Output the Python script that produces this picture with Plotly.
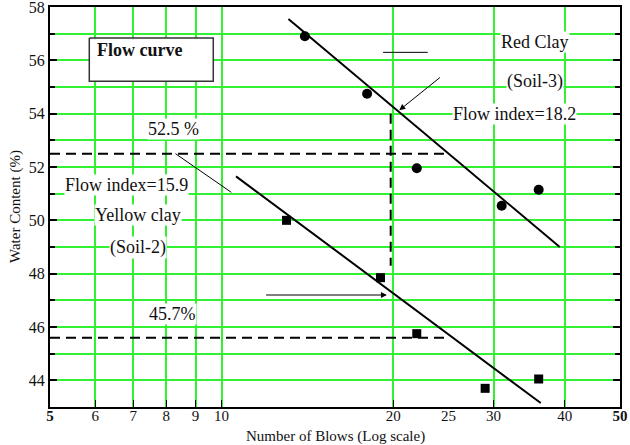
import math
import plotly.graph_objects as go

# ---- data ----
red_blows = [14, 18, 22, 31, 36]
red_wc = [56.9, 54.75, 51.95, 50.55, 51.15]
yellow_blows = [13, 19, 22, 29, 36]
yellow_wc = [50.0, 47.85, 45.75, 43.7, 44.05]

red_fit_blows = [13.1, 39.2]
red_fit_wc = [57.55, 49.0]
yellow_fit_blows = [10.6, 36.3]
yellow_fit_wc = [51.65, 43.15]

ll_upper_blows = [5, 25]
ll_upper_wc = [52.5, 52.5]
ll_lower_blows = [5, 25]
ll_lower_wc = [45.6, 45.6]
ll_vert_blows = [19.8, 19.8]
ll_vert_wc = [54.0, 48.3]

leader_blows = [8.3, 10.4]
leader_wc = [52.5, 51.05]
mark_blows = [19.2, 23.0]
mark_wc = [56.3, 56.3]

box_blows = [5.86, 9.67, 9.67, 5.86, 5.86]
box_wc = [56.84, 56.84, 55.22, 55.22, 56.84]

x_tick_vals = [5, 6, 7, 8, 9, 10, 20, 25, 30, 40, 50]
x_tick_text = ["<b>5</b>", "6", "7", "8", "9", "10", "20", "25", "30", "40", "<b>50</b>"]
x_grid_vals = [6, 7, 8, 9, 10, 20, 30, 40]
y_tick_vals = [44, 46, 48, 50, 52, 54, 56, 58]

FONT = "Liberation Serif, Times New Roman, serif"
GRID = "#33f033"

fig = go.Figure()

fig.add_trace(go.Scatter(x=box_blows, y=box_wc, mode="lines", fill="toself",
                         fillcolor="white", line=dict(color="#333", width=1.5),
                         hoverinfo="skip", showlegend=False))

for xs, ys in [(ll_upper_blows, ll_upper_wc), (ll_lower_blows, ll_lower_wc),
               (ll_vert_blows, ll_vert_wc)]:
    fig.add_trace(go.Scatter(x=xs, y=ys, mode="lines",
                             line=dict(color="black", width=2, dash="10px,6px"),
                             showlegend=False))

fig.add_trace(go.Scatter(x=leader_blows, y=leader_wc, mode="lines",
                         line=dict(color="black", width=1), showlegend=False))
fig.add_trace(go.Scatter(x=mark_blows, y=mark_wc, mode="lines",
                         line=dict(color="black", width=1), showlegend=False))

fig.add_trace(go.Scatter(x=red_fit_blows, y=red_fit_wc, mode="lines",
                         line=dict(color="black", width=2), showlegend=False))
fig.add_trace(go.Scatter(x=yellow_fit_blows, y=yellow_fit_wc, mode="lines",
                         line=dict(color="black", width=2), showlegend=False))

fig.add_trace(go.Scatter(x=red_blows, y=red_wc, mode="markers", name="Red Clay (Soil-3)",
                         marker=dict(symbol="circle", size=10, color="black"),
                         showlegend=False))
fig.add_trace(go.Scatter(x=yellow_blows, y=yellow_wc, mode="markers", name="Yellow clay (Soil-2)",
                         marker=dict(symbol="square", size=9, color="black"),
                         showlegend=False))

L = math.log10


def label(x, y, text, bg=True, size=18, bold=False, xanchor="center"):
    fig.add_annotation(x=L(x), y=y, xref="x", yref="y",
                       text=f"<b>{text}</b>" if bold else text, showarrow=False,
                       xanchor=xanchor,
                       font=dict(family=FONT, size=size, color="#111"),
                       bgcolor="white" if bg else None, borderpad=0)


label(8.23, 53.44, "52.5 %")
label(6.81, 51.31, "Flow index=15.9")
label(7.13, 50.19, "Yellow clay")
label(7.13, 48.98, "(Soil-2)")
label(8.2, 46.48, "45.7%")
label(35.5, 56.67, "Red Clay")
label(35.5, 55.19, "(Soil-3)")
label(32.7, 54.0, "Flow index=18.2")
label(6.02, 56.4, "Flow curve", bg=False, size=18, bold=True, xanchor="left")

# arrows
fig.add_annotation(x=L(20.5), y=54.13, ax=L(24.3), ay=55.4, xref="x", yref="y",
                   axref="x", ayref="y", showarrow=True, arrowhead=2, arrowsize=1.2,
                   arrowwidth=1, arrowcolor="black", text="")
fig.add_annotation(x=L(19.5), y=47.2, ax=L(11.9), ay=47.2, xref="x", yref="y",
                   axref="x", ayref="y", showarrow=True, arrowhead=2, arrowsize=1.2,
                   arrowwidth=1, arrowcolor="black", text="")

# axis titles
fig.add_annotation(x=0.5, y=0, xref="paper", yref="paper", yanchor="middle", yshift=-29,
                   text="Number of Blows (Log scale)", showarrow=False,
                   font=dict(family=FONT, size=15, color="#111"))
fig.add_annotation(x=0, y=0.5, xref="paper", yref="paper", xanchor="center", xshift=-35,
                   text="Water Content (%)", showarrow=False, textangle=-90,
                   font=dict(family=FONT, size=15, color="#111"))

fig.update_layout(
    width=630, height=445,
    margin=dict(l=50, r=10, t=7, b=38, autoexpand=False),
    paper_bgcolor="white", plot_bgcolor="white",
    font=dict(family=FONT, size=16, color="#111"),
    showlegend=False,
    xaxis=dict(type="log", range=[L(5), L(50)], automargin=False,
               tickmode="array", tickvals=x_tick_vals, ticktext=x_tick_text,
               ticks="", showgrid=False, zeroline=False, ticklabelstandoff=-6,
               ticklabeloverflow="allow",
               showline=True, linecolor="black", linewidth=2, mirror=True,
               tickfont=dict(family=FONT, size=15),
               minor=dict(tickmode="array", tickvals=x_grid_vals, ticks="inside",
                          ticklen=7, tickcolor="black", showgrid=True,
                          gridcolor=GRID, gridwidth=1.5)),
    yaxis=dict(range=[43, 58], tickmode="array", tickvals=y_tick_vals, automargin=False,
               ticklabeloverflow="allow",
               ticks="inside", ticklen=7, tickcolor="black", tickwidth=1.5,
               showgrid=True, gridcolor=GRID, gridwidth=1.5, zeroline=False,
               showline=True, linecolor="black", linewidth=2, mirror="ticks",
               tickfont=dict(family=FONT, size=16),
               minor=dict(dtick=1, tick0=43, ticks="inside", ticklen=5, tickcolor="black",
                          showgrid=True, gridcolor=GRID, gridwidth=1.5)),
)

fig.write_html("out.html", config={"displayModeBar": False},
               post_script="document.body.style.margin='0';")
